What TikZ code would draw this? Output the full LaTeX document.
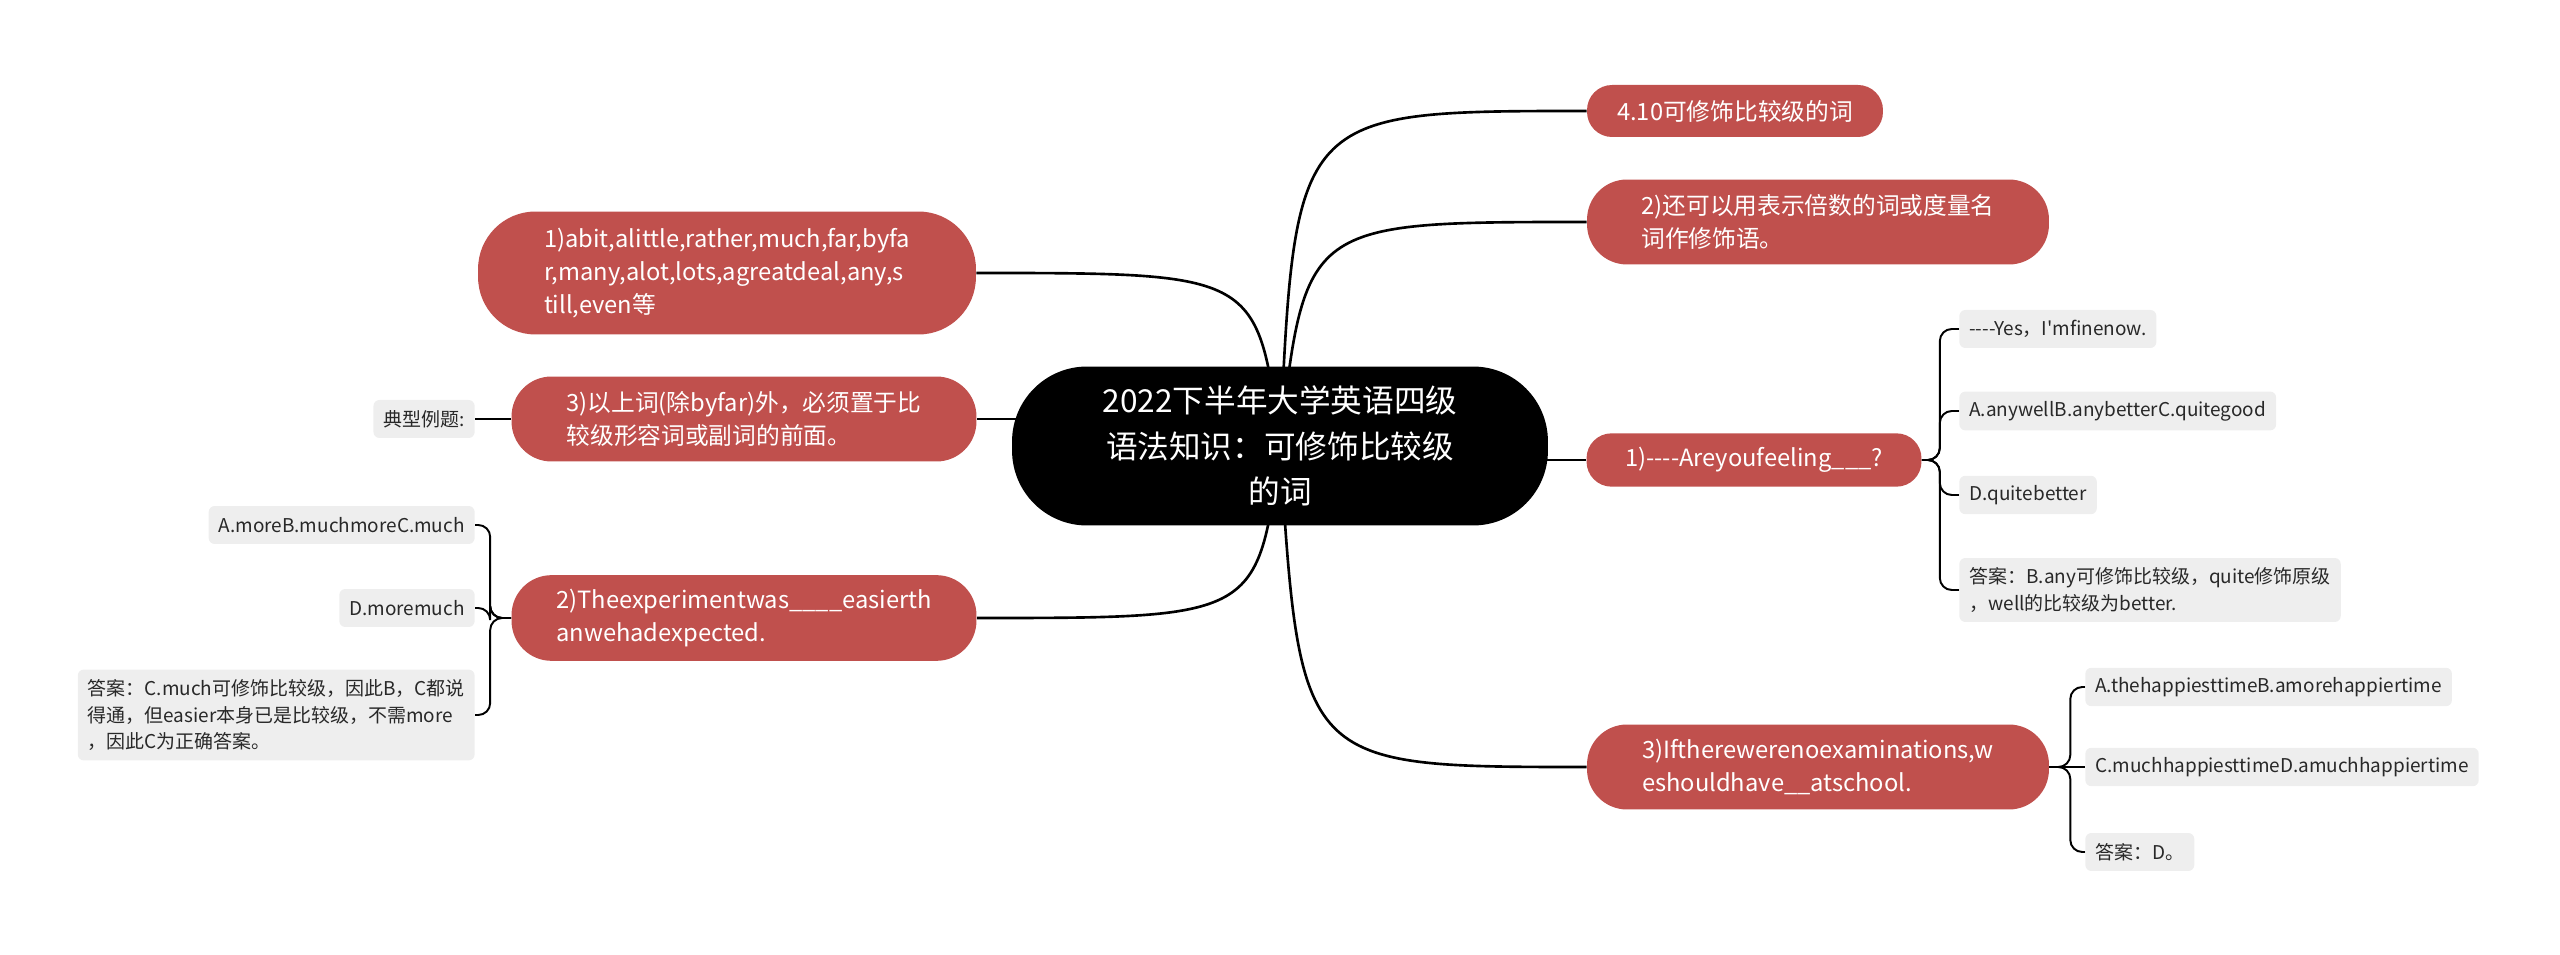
\documentclass[tikz,border=0pt]{standalone}
\usepackage{fontspec}
\newfontfamily\yahei{Noto Sans CJK SC}
\usetikzlibrary{backgrounds}
\definecolor{branchred}{RGB}{192,80,77}
\definecolor{leafgrey}{RGB}{238,238,238}
\definecolor{leafink}{RGB}{40,40,40}

\begin{document}
\begin{tikzpicture}[x=0.02cm, y=-0.02cm, every node/.style={font=\yahei},
	root/.style={fill=black, text=white, align=center, rounded corners=1.5cm, minimum width=10.72cm, minimum height=3.18cm, font=\yahei\fontsize{18}{26}\selectfont},
	branch/.style={fill=branchred, text=white, align=left, inner ysep=0.28cm, font=\yahei\fontsize{13.5}{18.7}\selectfont},
	onerow/.style={minimum height=1.04cm, rounded corners=0.5cm},
	tworow/.style={minimum height=1.7cm, rounded corners=0.8cm},
	threerow/.style={minimum height=2.46cm, rounded corners=1.15cm},
	leaf/.style={fill=leafgrey, text=leafink, align=left, rounded corners=0.12cm, inner xsep=0.2cm, inner ysep=0.19cm, minimum height=0.76cm, font=\yahei\fontsize{10.8}{15.3}\selectfont},
	link/.style={line width=1.5pt},
	twig/.style={line width=1.1pt, rounded corners=0.24cm}]
	\useasboundingbox (0,0) rectangle (2560,955);

	\node[root] (root) at (1280,446) {2022下半年大学英语四级\\语法知识：可修饰比较级\\的词};

	% right side
	\node[branch, onerow, minimum width=5.92cm] (b1) at (1735,111) {4.10可修饰比较级的词};
	\node[branch, tworow, minimum width=9.24cm] (b2) at (1818,222) {2)还可以用表示倍数的词或度量名\\词作修饰语。};
	\node[branch, onerow, minimum width=6.7cm] (b3) at (1754,460) {1)-{}-{}-{}-Areyoufeeling\_\_\_?};
	\node[branch, tworow, minimum width=9.24cm] (b4) at (1818,767) {3)Iftherewerenoexaminations,w\\eshouldhave\_\_atschool.};

	% left side
	\node[branch, threerow, minimum width=9.96cm] (b5) at (727,273) {1)abit,alittle,rather,much,far,byfa\\r,many,alot,lots,agreatdeal,any,s\\till,even等};
	\node[branch, tworow, minimum width=9.3cm] (b6) at (744,419) {3)以上词(除byfar)外，必须置于比\\较级形容词或副词的前面。};
	\node[branch, tworow, minimum width=9.3cm] (b7) at (744,618) {2)Theexperimentwas\_\_\_\_easierth\\anwehadexpected.};

	% leaves
	\node[leaf, anchor=west] (l1) at (1959,329) {-{}-{}-{}-Yes，I'mfinenow.};
	\node[leaf, anchor=west] (l2) at (1959,411) {A.anywellB.anybetterC.quitegood};
	\node[leaf, anchor=west] (l3) at (1959,495) {D.quitebetter};
	\node[leaf, anchor=west] (l4) at (1959,590) {答案：B.any可修饰比较级，quite修饰原级\\，well的比较级为better.};
	\node[leaf, anchor=west] (l5) at (2085,687) {A.thehappiesttimeB.amorehappiertime};
	\node[leaf, anchor=west] (l6) at (2085,767) {C.muchhappiesttimeD.amuchhappiertime};
	\node[leaf, anchor=west] (l7) at (2085,852) {答案：D。};
	\node[leaf, anchor=east] (l8) at (475,525) {A.moreB.muchmoreC.much};
	\node[leaf, anchor=east] (l9) at (475,608) {D.moremuch};
	\node[leaf, anchor=east] (l10) at (475,715) {答案：C.much可修饰比较级，因此B，C都说\\得通，但easier本身已是比较级，不需more\\，因此C为正确答案。};
	\node[leaf, anchor=east] (l11) at (475,419) {典型例题:};

	\begin{scope}[on background layer]
		\draw[link] (root.center) .. controls (1295,111) .. (b1.west);
		\draw[link] (root.center) .. controls (1305,222) .. (b2.west);
		\draw[link] (b3.west) -- (b3.west -| root.center);
		\draw[link] (root.center) .. controls (1300,767) .. (b4.west);
		\draw[link] (root.center) .. controls (1258,273) .. (b5.east);
		\draw[link] (b6.east) -- (b6.east -| root.center);
		\draw[link] (root.center) .. controls (1258,618) .. (b7.east);
		\draw[twig] (b6.west) -- (l11.east);
		\foreach \l in {l1,l2,l3,l4}
			\draw[twig] (b3.east) -- ++(18,0) |- (\l.west);
		\foreach \l in {l5,l7}
			\draw[twig] (b4.east) -- ++(21,0) |- (\l.west);
		\draw[twig] (b4.east) -- (l6.west);
		\foreach \l in {l8,l9,l10}
			\draw[twig] (b7.west) -- ++(-21,0) |- (\l.east);
	\end{scope}
\end{tikzpicture}
\end{document}
